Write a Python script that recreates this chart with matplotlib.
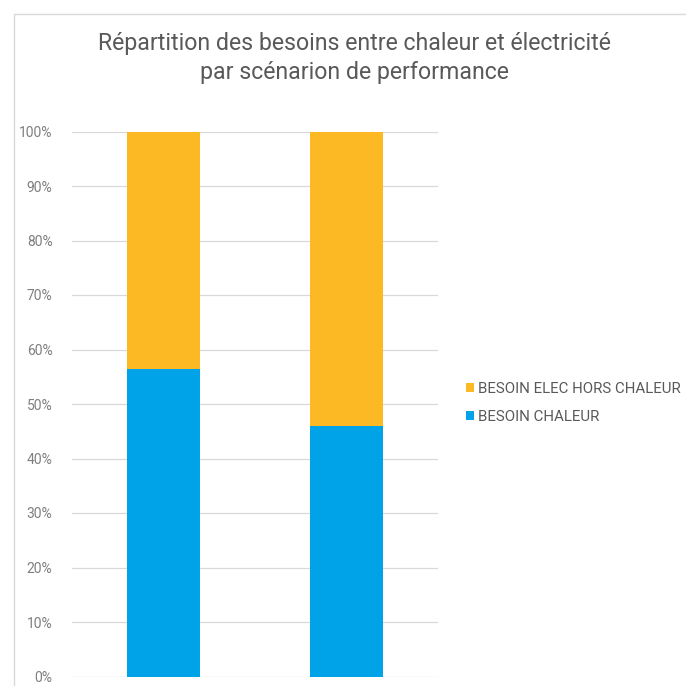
import matplotlib.pyplot as plt
from matplotlib.patches import Rectangle
from matplotlib.ticker import PercentFormatter

# Données (part des besoins, en %)
scenarios = ['Scénario 1', 'Scénario 2']
besoin_chaleur = [56.4, 46.0]
besoin_elec = [43.6, 54.0]

bleu = '#00A2E8'
orange = '#FDB924'
gris_texte = '#595959'

plt.rcParams['font.family'] = ['Roboto', 'DejaVu Sans']

fig = plt.figure(figsize=(6.86, 6.86), dpi=100)
ax = fig.add_axes([72 / 686, 1 - 676.5 / 686, 366 / 686, 545 / 686])

x = range(len(scenarios))
ax.bar(x, besoin_chaleur, width=0.4, color=bleu, label='BESOIN CHALEUR', zorder=3)
ax.bar(x, besoin_elec, width=0.4, bottom=besoin_chaleur, color=orange,
       label='BESOIN ELEC HORS CHALEUR', zorder=3)

ax.set_xlim(-0.5, 1.5)
ax.set_ylim(0, 100)
ax.set_yticks(range(0, 101, 10))
ax.yaxis.set_major_formatter(PercentFormatter(decimals=0))
ax.set_xticks([])
ax.grid(axis='y', color='#d9d9d9', linewidth=0.9, zorder=0)
for s in ax.spines.values():
    s.set_visible(False)
ax.tick_params(axis='y', length=0, pad=14, labelsize=10, labelcolor='#7f7f7f')

# Titre
fig.text(354 / 686, 1 - 58 / 686,
         'Répartition des besoins entre chaleur et électricité\npar scénarion de performance',
         ha='center', va='center', fontsize=16.7, color=gris_texte, linespacing=1.28)

# Légende (ordre inversé comme dans Excel)
handles, labels = ax.get_legend_handles_labels()
fig.legend(handles[::-1], labels[::-1], loc='center left',
           bbox_to_anchor=(452 / 686, 1 - 403 / 686), frameon=False,
           fontsize=10.8, labelcolor=gris_texte, handlelength=0.55, handleheight=0.55,
           handletextpad=0.3, labelspacing=0.95)

# Cadre du graphique
fig.patches.append(Rectangle((14 / 686, -0.01), 1, 1 - 14 / 686 + 0.01,
                             transform=fig.transFigure, fill=False,
                             edgecolor='#d9d9d9', linewidth=1))

fig.savefig('out.png', dpi=100)
